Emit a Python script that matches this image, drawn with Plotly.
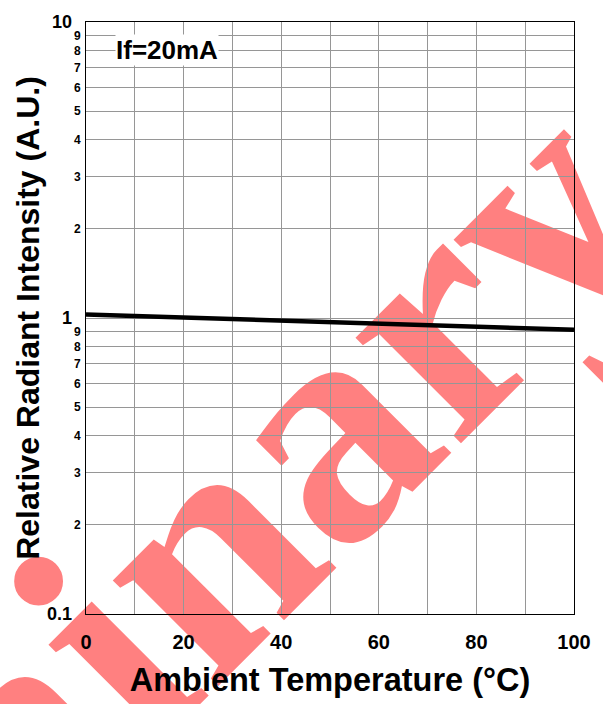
import plotly.graph_objects as go

# ---- data ----
temperature_c = [0, 10, 20, 30, 40, 50, 60, 70, 80, 90, 100]
relative_intensity = [1.028, 1.015, 1.003, 0.992, 0.981, 0.970, 0.958, 0.946, 0.935, 0.923, 0.912]

x_grid_vals = [0, 10, 20, 30, 40, 50, 60, 70, 80, 90, 100]
x_tick_text = ["0", "", "20", "", "40", "", "60", "", "80", "", "100"]

y_minor_vals = [0.2, 0.3, 0.4, 0.5, 0.6, 0.7, 0.8, 0.9, 1,
                2, 3, 4, 5, 6, 7, 8, 9]
y_minor_text = ["2", "3", "4", "5", "6", "7", "8", "9", "",
                "2", "3", "4", "5", "6", "7", "8", "9"]
y_major_vals = [0.1, 1, 10]
y_major_text = ["0.1", "1", "10"]

condition_label = "If=20mA"
watermark_text = "Preliminary"
x_title = "Ambient Temperature (°C)"
y_title = "Relative Radiant Intensity (A.U.)"

FONT = "Liberation Sans, Arial, Helvetica, sans-serif"
GRID = "#969696"

fig = go.Figure()
fig.add_trace(go.Scatter(
    x=temperature_c, y=relative_intensity, mode="lines",
    line=dict(color="black", width=4.5), showlegend=False, hoverinfo="skip",
))
# empty trace so the overlaid axis carrying the decade labels is drawn
fig.add_trace(go.Scatter(x=[None], y=[None], yaxis="y2", mode="lines",
                         showlegend=False, hoverinfo="skip"))

fig.update_layout(
    width=603, height=704,
    margin=dict(l=86, r=26, t=14, b=87),
    paper_bgcolor="white", plot_bgcolor="white",
    font=dict(family=FONT, color="black"),
    showlegend=False,
    xaxis=dict(
        range=[0, 100], tickmode="array", tickvals=x_grid_vals, ticktext=x_tick_text,
        showgrid=True, gridcolor=GRID, gridwidth=1, zeroline=False,
        showline=True, linecolor="black", linewidth=1, mirror=True,
        ticks="", ticklabelstandoff=10,
        tickfont=dict(size=20, family=FONT, weight="bold"),
        title=dict(text=x_title, font=dict(size=32.5, family=FONT, weight="bold"), standoff=16),
    ),
    yaxis=dict(
        type="log", range=[-1, 1], tickmode="array", tickvals=y_minor_vals, ticktext=y_minor_text,
        showgrid=True, gridcolor=GRID, gridwidth=1, zeroline=False,
        showline=True, linecolor="black", linewidth=1, mirror=True,
        ticks="", ticklabelstandoff=2,
        tickfont=dict(size=12, family=FONT, weight="bold"),
        title=dict(text=y_title, font=dict(size=32, family=FONT, weight="bold"), standoff=24),
    ),
    yaxis2=dict(
        type="log", range=[-1, 1], overlaying="y", side="left", anchor="x",
        tickmode="array", tickvals=y_major_vals, ticktext=y_major_text,
        showgrid=False, zeroline=False, showline=False, ticks="",
        ticklabelstandoff=13,
        tickfont=dict(size=18, family=FONT, weight="bold"),
    ),
)

# condition label with white background
fig.add_annotation(
    x=0.165, y=0.953, xref="paper", yref="paper", xanchor="center", yanchor="middle",
    text=condition_label, showarrow=False, bgcolor="white", borderpad=0,
    font=dict(size=26, family=FONT, weight="bold", color="black"),
)

# watermark, drawn below the grid
fig.add_shape(
    type="rect", xref="paper", yref="paper",
    x0=-0.226, x1=-0.216, y0=-0.187, y1=-0.177,
    layer="below", line=dict(width=0), fillcolor="rgba(0,0,0,0)",
    label=dict(text="<b>" + watermark_text + "</b>", textangle=-45, textposition="middle center",
               font=dict(size=325, family="Liberation Serif, Times New Roman, serif",
                         color="#FF8080")),
)

fig.write_html("out.html")
